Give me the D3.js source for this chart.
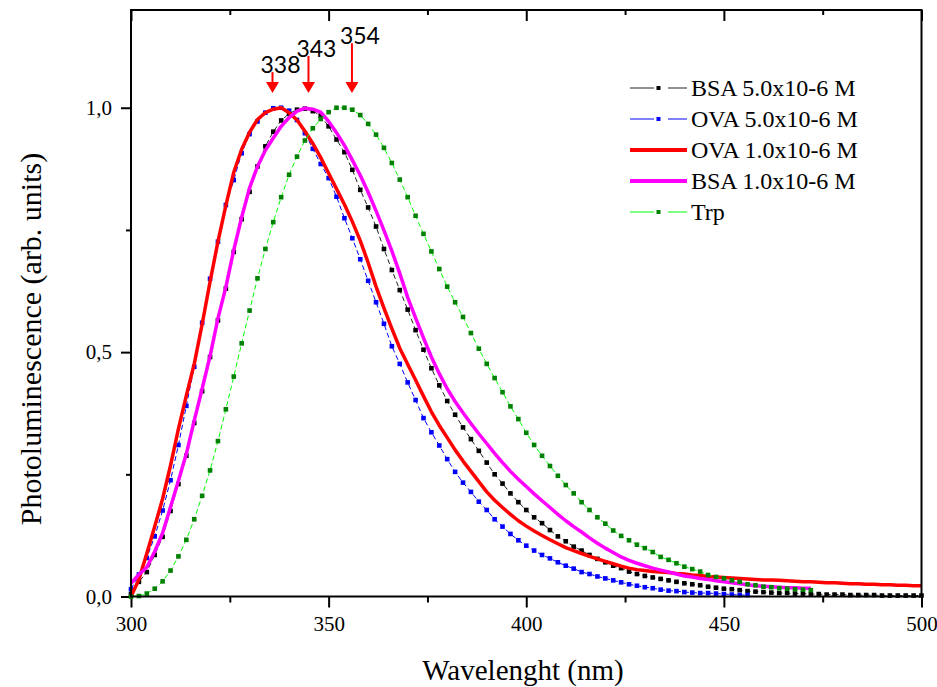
<!DOCTYPE html>
<html lang="en">
<head>
    <meta charset="UTF-8">
    <title>Photoluminescence spectra</title>
    <script src="https://d3js.org/d3.v7.min.js"></script>
    <style>
        body { margin: 0; background: #fff; }
        svg { display: block; }
        .serif { font-family: "Liberation Serif", "Times New Roman", serif; fill: #000; }
        .tick text { font-family: "Liberation Serif", "Times New Roman", serif; font-size: 21px; fill: #000; }
        .tick line { stroke: #000; stroke-width: 2; }
    </style>
</head>
<body>
    <svg width="937" height="687"></svg>
    <script>
        const bsa5 = [
            0.005, 0.030, 0.050, 0.085, 0.122, 0.175, 0.230, 0.288, 0.355, 0.420,
            0.490, 0.565, 0.630, 0.705, 0.772, 0.828, 0.880, 0.921, 0.951, 0.974,
            0.988, 0.996, 0.998, 0.993, 0.984, 0.962, 0.935, 0.909, 0.873, 0.832,
            0.796, 0.757, 0.711, 0.668, 0.627, 0.587, 0.545, 0.505, 0.467, 0.432,
            0.400, 0.372, 0.346, 0.322, 0.298, 0.274, 0.250, 0.231, 0.211, 0.193,
            0.177, 0.162, 0.150, 0.136, 0.123, 0.113, 0.102, 0.094, 0.085, 0.077,
            0.070, 0.063, 0.058, 0.051, 0.046, 0.042, 0.039, 0.036, 0.033, 0.030,
            0.027, 0.025, 0.023, 0.020, 0.018, 0.016, 0.015, 0.013, 0.011, 0.010,
            0.009, 0.008, 0.007, 0.007, 0.006, 0.006, 0.005, 0.005, 0.004, 0.004,
            0.004, 0.003, 0.003, 0.003, 0.003, 0.002, 0.002, 0.002, 0.002, 0.002,
            0.002
        ];
        const ova5 = [
            0.015, 0.045, 0.079, 0.123, 0.176, 0.238, 0.310, 0.390, 0.470, 0.560,
            0.650, 0.726, 0.801, 0.852, 0.907, 0.946, 0.972, 0.990, 0.999, 1.000,
            0.994, 0.975, 0.948, 0.916, 0.885, 0.856, 0.818, 0.774, 0.733, 0.690,
            0.646, 0.602, 0.558, 0.512, 0.476, 0.438, 0.402, 0.365, 0.336, 0.309,
            0.281, 0.255, 0.233, 0.214, 0.194, 0.177, 0.158, 0.143, 0.128, 0.115,
            0.104, 0.094, 0.085, 0.078, 0.070, 0.063, 0.057, 0.050, 0.046, 0.041,
            0.037, 0.033, 0.029, 0.025, 0.022, 0.019, 0.017, 0.014, 0.012, 0.011,
            0.009, 0.008, 0.007, 0.007, 0.006, 0.005, 0.004, 0.003, 0.003
        ];
        const ova1 = [
            0.000, 0.035, 0.088, 0.143, 0.200, 0.268, 0.343, 0.411, 0.476, 0.557,
            0.644, 0.726, 0.800, 0.868, 0.915, 0.950, 0.976, 0.990, 0.997, 1.000,
            0.990, 0.975, 0.952, 0.927, 0.898, 0.866, 0.834, 0.802, 0.767, 0.728,
            0.683, 0.634, 0.590, 0.548, 0.508, 0.475, 0.443, 0.410, 0.378, 0.350,
            0.325, 0.300, 0.277, 0.256, 0.235, 0.214, 0.197, 0.182, 0.168, 0.155,
            0.144, 0.134, 0.125, 0.116, 0.108, 0.100, 0.094, 0.088, 0.082, 0.077,
            0.072, 0.067, 0.062, 0.058, 0.055, 0.053, 0.051, 0.050, 0.049, 0.047,
            0.046, 0.044, 0.043, 0.041, 0.040, 0.039, 0.038, 0.037, 0.036, 0.035,
            0.034, 0.034, 0.033, 0.032, 0.031, 0.030, 0.030, 0.029, 0.028, 0.028,
            0.027, 0.026, 0.026, 0.025, 0.025, 0.024, 0.024, 0.023, 0.023, 0.022,
            0.022
        ];
        const bsa1 = [
            0.027, 0.045, 0.060, 0.092, 0.130, 0.183, 0.237, 0.292, 0.360, 0.425,
            0.492, 0.569, 0.633, 0.709, 0.776, 0.836, 0.880, 0.913, 0.938, 0.962,
            0.980, 0.993, 0.999, 0.997, 0.991, 0.972, 0.949, 0.923, 0.893, 0.862,
            0.827, 0.789, 0.749, 0.707, 0.661, 0.612, 0.570, 0.529, 0.490, 0.456,
            0.425, 0.399, 0.376, 0.354, 0.333, 0.313, 0.293, 0.274, 0.256, 0.240,
            0.225, 0.210, 0.196, 0.182, 0.168, 0.155, 0.143, 0.132, 0.120, 0.109,
            0.099, 0.090, 0.081, 0.074, 0.068, 0.063, 0.058, 0.054, 0.050, 0.046,
            0.042, 0.040, 0.037, 0.035, 0.032, 0.030, 0.028, 0.026, 0.024, 0.022,
            0.021, 0.020, 0.019, 0.018, 0.018, 0.017, 0.017
        ];
        const trp = [
            0.000, 0.001, 0.006, 0.016, 0.031, 0.053, 0.082, 0.116, 0.158, 0.206,
            0.258, 0.318, 0.383, 0.450, 0.518, 0.585, 0.651, 0.711, 0.766, 0.817,
            0.863, 0.900, 0.933, 0.958, 0.977, 0.991, 1.000, 1.000, 0.996, 0.985,
            0.967, 0.945, 0.918, 0.887, 0.853, 0.817, 0.779, 0.742, 0.706, 0.670,
            0.634, 0.602, 0.572, 0.539, 0.507, 0.476, 0.447, 0.418, 0.389, 0.363,
            0.335, 0.310, 0.288, 0.267, 0.247, 0.228, 0.211, 0.193, 0.177, 0.162,
            0.149, 0.135, 0.124, 0.115, 0.106, 0.099, 0.091, 0.081, 0.075, 0.068,
            0.061, 0.056, 0.051, 0.044, 0.040, 0.037, 0.033, 0.030, 0.025, 0.023,
            0.020, 0.019, 0.017, 0.016, 0.015, 0.014, 0.013
        ];

        const seriesNames = ["BSA 5.0x10-6 M", "OVA 5.0x10-6 M", "OVA 1.0x10-6 M", "BSA 1.0x10-6 M", "Trp"];
        const seriesValues = [bsa5, ova5, ova1, bsa1, trp];
        const startNm = 300, stepNm = 2;

        const xTicks = [300, 350, 400, 450, 500];
        const xMinorTicks = [325, 375, 425, 475];
        const yTicks = [0, 0.5, 1.0];
        const yMinorTicks = [0.25, 0.75];

        // peak annotations: label, arrow position (nm), arrow top (intensity)
        const peakLabels = ["338", "343", "354"];
        const peakArrowNm = [335.8, 344.9, 355.9];
        const peakArrowTop = [1.073, 1.106, 1.132];

        const styles = [
            { line: "#222", width: 1, dash: "5,3", marker: "#000" },
            { line: "#0000ff", width: 1, dash: "5,3", marker: "#0000ff" },
            { line: "#ff0000", width: 3.5, dash: null, marker: null },
            { line: "#ff00ff", width: 3.5, dash: null, marker: null },
            { line: "#00ff00", width: 1, dash: "5,3", marker: "#008000" }
        ];

        const margin = { top: 10, right: 15.5, bottom: 90.5, left: 131 };
        const W = 937, H = 687;
        const width = W - margin.left - margin.right;
        const height = H - margin.top - margin.bottom;

        const svg = d3.select("svg");
        const g = svg.append("g").attr("transform", `translate(${margin.left},${margin.top})`);

        const x = d3.scaleLinear().domain([300, 500]).range([0, width]);
        const y = d3.scaleLinear().domain([0, 1.2]).range([height, 0]);
        const comma = d => d3.format(".1f")(d).replace(".", ",");

        // Axes
        g.append("g").attr("transform", `translate(0,${height})`)
            .call(d3.axisBottom(x).tickValues(xTicks).tickSize(11).tickPadding(9))
            .call(a => a.select(".domain").remove());
        g.append("g").attr("transform", `translate(0,${height})`)
            .call(d3.axisBottom(x).tickValues(xMinorTicks).tickSize(6).tickFormat(""))
            .call(a => a.select(".domain").remove());
        g.append("g")
            .call(d3.axisTop(x).tickValues(xTicks).tickSize(-11).tickFormat(""))
            .call(a => a.select(".domain").remove());
        g.append("g")
            .call(d3.axisTop(x).tickValues(xMinorTicks).tickSize(-5).tickFormat(""))
            .call(a => a.select(".domain").remove());
        g.append("g")
            .call(d3.axisLeft(y).tickValues(yTicks).tickSize(10).tickPadding(9).tickFormat(comma))
            .call(a => a.select(".domain").remove());
        g.append("g")
            .call(d3.axisLeft(y).tickValues(yMinorTicks).tickSize(5).tickFormat(""))
            .call(a => a.select(".domain").remove());

        // Curves
        const line = d3.line()
            .x((d, i) => x(startNm + i * stepNm))
            .y(d => y(d));

        seriesValues.forEach((vals, k) => {
            const s = styles[k];
            const path = g.append("path")
                .datum(vals)
                .attr("fill", "none")
                .attr("stroke", s.line)
                .attr("stroke-width", s.width)
                .attr("stroke-linejoin", "round")
                .attr("d", line);
            if (s.dash) path.attr("stroke-dasharray", s.dash);
            if (s.marker) {
                g.append("g").selectAll("rect")
                    .data(vals)
                    .join("rect")
                    .attr("x", (d, i) => x(startNm + i * stepNm) - 2.3)
                    .attr("y", d => y(d) - 2.3)
                    .attr("width", 4.6)
                    .attr("height", 4.6)
                    .attr("fill", s.marker);
            }
        });

        // Frame
        g.append("rect")
            .attr("width", width).attr("height", height)
            .attr("fill", "none").attr("stroke", "#000").attr("stroke-width", 2);

        // Peak arrows
        peakLabels.forEach((lab, i) => {
            const ax = x(peakArrowNm[i]);
            const top = y(peakArrowTop[i]);
            const tip = y(1.03);
            g.append("line")
                .attr("x1", ax).attr("x2", ax)
                .attr("y1", top).attr("y2", tip - 10)
                .attr("stroke", "#ff0000").attr("stroke-width", 2);
            g.append("path")
                .attr("d", `M${ax - 6.5},${tip - 11} L${ax + 6.5},${tip - 11} L${ax},${tip} Z`)
                .attr("fill", "#ff0000");
            g.append("text")
                .attr("x", ax + 8).attr("y", top + 1)
                .attr("text-anchor", "middle")
                .style("font-family", "Lato, 'Liberation Sans', sans-serif")
                .style("font-size", "23px")
                .text(lab);
        });

        // Legend
        const legend = svg.append("g").attr("transform", "translate(630,88)");
        seriesNames.forEach((name, i) => {
            const s = styles[i];
            const row = legend.append("g").attr("transform", `translate(0,${i * 31})`);
            if (s.dash) {
                row.append("line").attr("x1", 0).attr("x2", 24).attr("stroke", s.line).attr("stroke-width", 1);
                row.append("line").attr("x1", 38).attr("x2", 57).attr("stroke", s.line).attr("stroke-width", 1);
                row.append("rect").attr("x", 26.5).attr("y", -2).attr("width", 4).attr("height", 4).attr("fill", s.marker);
            } else {
                row.append("line").attr("x1", 0).attr("x2", 57).attr("stroke", s.line).attr("stroke-width", 4);
            }
            row.append("text")
                .attr("class", "serif")
                .attr("x", 61).attr("y", 8)
                .style("font-size", "24px")
                .text(name);
        });

        // Axis titles
        svg.append("text")
            .attr("class", "serif")
            .attr("x", 523).attr("y", 680)
            .attr("text-anchor", "middle")
            .style("font-size", "29px")
            .text("Wavelenght (nm)");
        svg.append("text")
            .attr("class", "serif")
            .attr("transform", "translate(41,339) rotate(-90)")
            .attr("text-anchor", "middle")
            .style("font-size", "30px")
            .text("Photoluminescence (arb. units)");
    </script>
</body>
</html>
